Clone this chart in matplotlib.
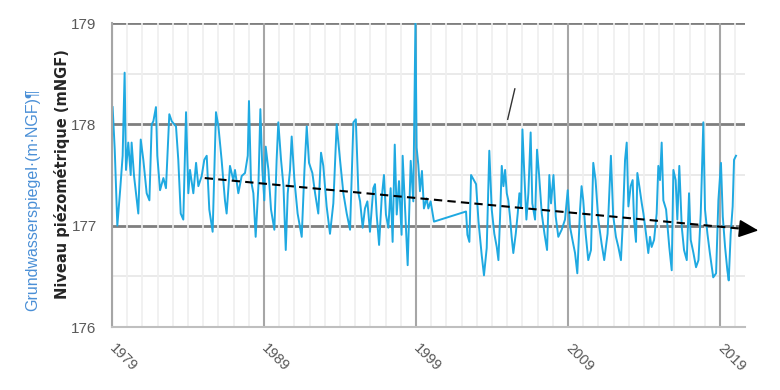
import numpy as np
import matplotlib.pyplot as plt
from matplotlib.ticker import MultipleLocator

# groundwater level, decimal years vs m NGF
years = [
    1979.04, 1979.18, 1979.35, 1979.53, 1979.70, 1979.83, 1979.92, 1980.07, 1980.23, 1980.29,
    1980.45, 1980.73, 1980.89, 1981.06, 1981.28, 1981.46, 1981.61, 1981.72, 1981.89, 1981.98,
    1982.16, 1982.38, 1982.55, 1982.77, 1982.93, 1983.21, 1983.36, 1983.52, 1983.69, 1983.87,
    1984.02, 1984.13, 1984.35, 1984.53, 1984.68, 1984.90, 1985.07, 1985.23, 1985.40, 1985.62,
    1985.84, 1986.00, 1986.21, 1986.43, 1986.54, 1986.76, 1986.98, 1987.09, 1987.31, 1987.53,
    1987.75, 1987.93, 1988.01, 1988.14, 1988.30, 1988.45, 1988.63, 1988.76, 1988.89, 1989.02,
    1989.11, 1989.29, 1989.46, 1989.68, 1989.83, 1989.94, 1990.12, 1990.28, 1990.43, 1990.56,
    1990.71, 1990.82, 1991.00, 1991.21, 1991.48, 1991.66, 1991.81, 1991.96, 1992.18, 1992.36,
    1992.57, 1992.75, 1992.90, 1993.12, 1993.34, 1993.56, 1993.78, 1994.00, 1994.22, 1994.44,
    1994.66, 1994.88, 1995.04, 1995.21, 1995.32, 1995.49, 1995.64, 1995.80, 1995.97, 1996.19,
    1996.30, 1996.41, 1996.57, 1996.74, 1996.89, 1997.02, 1997.18, 1997.33, 1997.46, 1997.60,
    1997.73, 1997.88, 1998.05, 1998.12, 1998.28, 1998.45, 1998.65, 1998.82, 1998.96, 1999.04,
    1999.15, 1999.26, 1999.39, 1999.52, 1999.70, 1999.81, 1999.96, 2000.18, 2002.29, 2002.38,
    2002.51, 2002.62, 2002.95, 2003.11, 2003.32, 2003.47, 2003.65, 2003.82, 2003.98, 2004.15,
    2004.31, 2004.42, 2004.53, 2004.64, 2004.75, 2004.86, 2004.97, 2005.07, 2005.18, 2005.29,
    2005.40, 2005.56, 2005.69, 2005.80, 2005.91, 2006.00, 2006.13, 2006.26, 2006.39, 2006.54,
    2006.65, 2006.83, 2006.96, 2007.10, 2007.27, 2007.45, 2007.62, 2007.77, 2007.88, 2008.04,
    2008.19, 2008.36, 2008.58, 2008.80, 2008.98, 2009.13, 2009.29, 2009.46, 2009.61, 2009.79,
    2009.89, 2010.00, 2010.16, 2010.33, 2010.51, 2010.66, 2010.81, 2010.99, 2011.21, 2011.38,
    2011.60, 2011.82, 2011.97, 2012.15, 2012.31, 2012.48, 2012.59, 2012.75, 2012.86, 2012.97,
    2013.12, 2013.25, 2013.34, 2013.47, 2013.56, 2013.69, 2013.85, 2013.96, 2014.13, 2014.28,
    2014.39, 2014.50, 2014.66, 2014.83, 2014.94, 2015.05, 2015.16, 2015.27, 2015.45, 2015.66,
    2015.82, 2015.93, 2016.08, 2016.19, 2016.32, 2016.48, 2016.63, 2016.81, 2016.96, 2017.07,
    2017.25, 2017.42, 2017.58, 2017.73, 2017.90, 2018.01, 2018.17, 2018.33, 2018.55, 2018.74,
    2018.89, 2019.06, 2019.18, 2019.33, 2019.48, 2019.57, 2019.70, 2019.83, 2019.92, 2020.05,
]
levels = [
    178.17, 177.75, 177.00, 177.34, 177.69, 178.51, 177.55, 177.82, 177.50, 177.82,
    177.49, 177.12, 177.85, 177.65, 177.32, 177.25, 178.00, 178.03, 178.17, 177.69,
    177.35, 177.47, 177.37, 178.10, 178.03, 177.98, 177.65, 177.12, 177.06, 178.12,
    177.32, 177.55, 177.32, 177.62, 177.39, 177.49, 177.65, 177.69, 177.16, 176.94,
    178.12, 177.98, 177.65, 177.25, 177.12, 177.59, 177.45, 177.55, 177.32, 177.49,
    177.52, 177.69, 178.23, 177.45, 177.32, 176.89, 177.39, 178.15, 177.55, 177.25,
    177.78, 177.55, 177.16, 176.96, 177.65, 178.02, 177.65, 177.39, 176.76, 177.32,
    177.55, 177.88, 177.45, 177.12, 176.89, 177.55, 177.98, 177.62, 177.52, 177.32,
    177.12, 177.72, 177.59, 177.19, 176.92, 177.22, 178.00, 177.65, 177.32, 177.12,
    176.96, 178.02, 178.05, 177.32, 177.24, 176.98, 177.17, 177.24, 176.94, 177.37,
    177.41, 177.11, 176.81, 177.27, 177.50, 177.11, 176.98, 177.37, 176.84, 177.80,
    177.11, 177.44, 176.91, 177.69, 177.17, 176.61, 177.64, 177.24, 179.00, 177.77,
    177.60, 177.34, 177.54, 177.17, 177.27, 177.17, 177.24, 177.04, 177.14, 176.91,
    176.84, 177.50, 177.41, 177.04, 176.71, 176.51, 176.78, 177.74, 177.16, 176.92,
    176.79, 176.66, 177.09, 177.59, 177.39, 177.55, 177.32, 177.25, 177.09, 176.89,
    176.73, 176.92, 177.12, 177.32, 177.19, 177.95, 177.49, 177.06, 177.32, 177.92,
    177.22, 177.06, 177.75, 177.49, 177.12, 176.92, 176.76, 177.50, 177.22, 177.50,
    177.09, 176.89, 176.96, 177.06, 177.35, 176.99, 176.86, 176.73, 176.53, 177.16,
    177.39, 177.25, 176.92, 176.66, 176.76, 177.62, 177.45, 177.06, 176.82, 176.66,
    176.92, 177.69, 177.10, 176.89, 176.79, 176.66, 176.99, 177.65, 177.82, 177.19,
    177.39, 177.45, 177.06, 176.84, 177.52, 177.39, 177.22, 177.12, 176.92, 176.73,
    176.89, 176.79, 176.86, 177.12, 177.59, 177.45, 177.82, 177.25, 177.16, 176.79,
    176.56, 177.55, 177.45, 177.06, 177.59, 176.99, 176.76, 176.66, 177.32, 176.86,
    176.73, 176.59, 176.66, 177.12, 178.02, 177.16, 176.92, 176.73, 176.49, 176.53,
    177.25, 177.62, 177.09, 176.79, 176.56, 176.46, 176.92, 177.19, 177.65, 177.69,
]

trend_years = [1985.1, 2020.4, 2021.7]
trend_levels = [177.47, 176.97, 176.95]

slash_years = [2005.03, 2005.50]
slash_levels = [178.05, 178.35]

year_ticks = [1979, 1989, 1999, 2009, 2019]

sans = ['Liberation Sans', 'DejaVu Sans']

fig = plt.figure(figsize=(7.8, 3.9), dpi=100)
ax = fig.add_axes([0.1436, 0.1615, 0.8115, 0.7795])

ax.set_xlim(1979, 2020.64)
ax.set_ylim(176, 179)

# horizontal grid (drawn under the light vertical ones)
for v in [176.5, 177.5, 178.5]:
    ax.axhline(v, color='#e6e6e6', lw=1.2, zorder=0.3)
for v in [177, 178, 179]:
    ax.axhline(v, color='#7f7f7f', lw=2.0, zorder=0.3)

ax.xaxis.set_minor_locator(MultipleLocator(1))
ax.set_axisbelow(True)
ax.grid(which='minor', axis='x', color='#efefef', lw=1.2)
ax.grid(which='major', axis='x', color='#a6a6a6', lw=1.5)

ax.plot(years, levels, color='#1fa9e1', lw=1.4, zorder=2)

ax.plot(trend_years[:2], trend_levels[:2], color='black', ls=(0, (4, 2.5)), lw=1.5, zorder=3)
ax.annotate('', xy=(trend_years[2], trend_levels[2]), xytext=(trend_years[1], trend_levels[1]),
            arrowprops=dict(arrowstyle='-|>,head_length=1.2,head_width=0.55', color='black', lw=1.2),
            annotation_clip=False, zorder=3)

ax.plot(slash_years, slash_levels, color='#333333', lw=1.0, zorder=3)

for s in ['top', 'right']:
    ax.spines[s].set_visible(False)
ax.spines['left'].set_color('#a6a6a6')
ax.spines['bottom'].set_color('#bfbfbf')
ax.spines['left'].set_linewidth(1.5)
ax.spines['bottom'].set_linewidth(1.5)

ax.set_yticks([176, 177, 178, 179])
ax.set_yticklabels(['176', '177', '178', '179'], family=sans, fontsize=11, color='#595959')
ax.set_xticks(year_ticks)
ax.set_xticklabels([str(y) for y in year_ticks], family=sans, fontsize=10.5, color='#595959',
                   rotation=-45, ha='left', va='center', rotation_mode='anchor')
ax.tick_params(axis='both', which='both', length=0)
ax.tick_params(axis='y', pad=11)
ax.tick_params(axis='x', pad=14)

fig.text(0.042, 0.487, 'Grundwasserspiegel·(m·NGF)¶', rotation=90, ha='center', va='center',
         color='#4a8fd6', fontsize=11.5, family=sans)
fig.text(0.0795, 0.554, 'Niveau piézométrique (mNGF)', rotation=90, ha='center', va='center',
         color='#262626', fontsize=10.5, fontweight='semibold')

fig.savefig('out.png', dpi=100)
